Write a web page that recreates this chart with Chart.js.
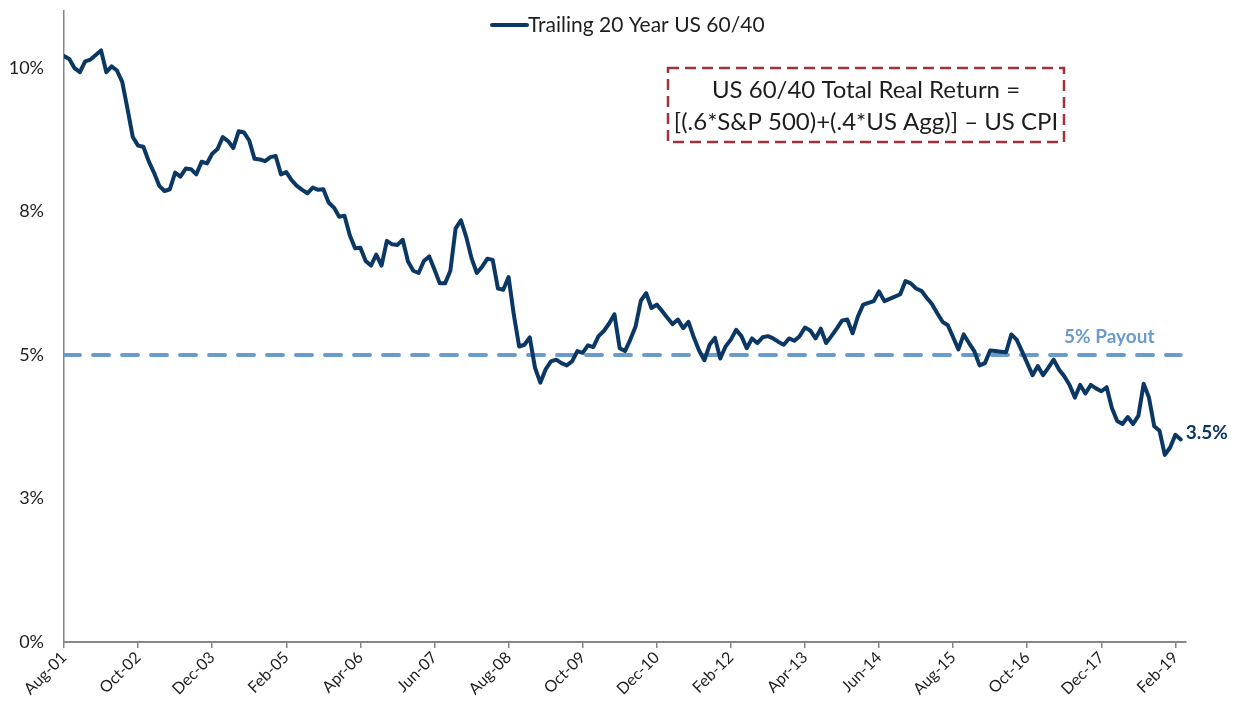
<!DOCTYPE html>
<html>
<head>
<meta charset="utf-8">
<script src="https://cdn.jsdelivr.net/npm/chart.js@4.4.1/dist/chart.umd.min.js"></script>
<style>
  html, body { margin: 0; padding: 0; background: #fff; }
  #wrap { width: 1238px; height: 701px; position: relative; }
</style>
</head>
<body>
<div id="wrap"><canvas id="grafico"></canvas></div>
<script>
// meses desde Aug-01 (indice 0) ate Mar-19 (indice 211)
var rotulosEixo = ['Aug-01', 'Oct-02', 'Dec-03', 'Feb-05', 'Apr-06', 'Jun-07', 'Aug-08', 'Oct-09',
  'Dec-10', 'Feb-12', 'Apr-13', 'Jun-14', 'Aug-15', 'Oct-16', 'Dec-17', 'Feb-19'];
var passoRotulo = 14; // meses entre rotulos
var totalMeses = 212;

var retorno6040 = [
  10.21, 10.16, 10.00, 9.93, 10.12, 10.15, 10.23, 10.31, 9.93, 10.03, 9.96, 9.76, 9.29, 8.80, 8.65, 8.63,
  8.38, 8.18, 7.95, 7.86, 7.89, 8.18, 8.11, 8.25, 8.24, 8.15, 8.37, 8.34, 8.51, 8.59, 8.80, 8.73,
  8.61, 8.90, 8.88, 8.74, 8.42, 8.41, 8.38, 8.45, 8.47, 8.15, 8.19, 8.05, 7.95, 7.88, 7.82, 7.92,
  7.88, 7.89, 7.66, 7.57, 7.41, 7.43, 7.09, 6.86, 6.87, 6.64, 6.56, 6.75, 6.56, 6.99, 6.93, 6.92,
  7.01, 6.63, 6.47, 6.43, 6.64, 6.72, 6.49, 6.25, 6.25, 6.47, 7.21, 7.35, 7.06, 6.69, 6.43, 6.54,
  6.68, 6.66, 6.16, 6.14, 6.36, 5.70, 5.15, 5.18, 5.31, 4.78, 4.52, 4.75, 4.89, 4.92, 4.86, 4.82,
  4.89, 5.07, 5.04, 5.17, 5.14, 5.33, 5.42, 5.55, 5.71, 5.12, 5.07, 5.27, 5.50, 5.95, 6.08, 5.82,
  5.88, 5.77, 5.65, 5.54, 5.62, 5.47, 5.58, 5.31, 5.08, 4.91, 5.18, 5.30, 4.94, 5.15, 5.27, 5.44,
  5.33, 5.12, 5.29, 5.21, 5.31, 5.33, 5.29, 5.23, 5.18, 5.29, 5.25, 5.33, 5.48, 5.43, 5.29, 5.46,
  5.21, 5.33, 5.46, 5.60, 5.62, 5.38, 5.67, 5.88, 5.91, 5.94, 6.11, 5.94, 5.98, 6.02, 6.06, 6.29,
  6.25, 6.16, 6.12, 6.00, 5.89, 5.73, 5.58, 5.52, 5.31, 5.10, 5.36, 5.21, 5.07, 4.82, 4.86, 5.08,
  5.07, 5.06, 5.05, 5.36, 5.27, 5.07, 4.86, 4.65, 4.81, 4.65, 4.78, 4.92, 4.75, 4.63, 4.48, 4.26,
  4.48, 4.33, 4.48, 4.42, 4.37, 4.44, 4.08, 3.85, 3.80, 3.92, 3.80, 3.94, 4.50, 4.26, 3.76, 3.68,
  3.26, 3.39, 3.61, 3.53
];
var payout = 5;

var corLinha = '#0b3764';
var corPayout = '#6b9bca';
var corEixo = '#868686';
var corTexto = '#1e1e1e';

Chart.defaults.font.family = 'Lato, "Open Sans", sans-serif';
Chart.defaults.color = corTexto;

var pontos = retorno6040.map(function(v, i){ return { x: i, y: v }; });
var ultimo = retorno6040.length - 1;

// legenda, caixa da formula e rotulos "5% Payout" / ultimo valor
var anotacoes = {
  id: 'anotacoes',
  afterDraw: function(chart) {
    var ctx = chart.ctx;
    var sx = chart.scales.x, sy = chart.scales.y;
    var ds = chart.data.datasets[0];
    ctx.save();

    // legenda
    ctx.strokeStyle = ds.borderColor;
    ctx.lineWidth = 4;
    ctx.lineCap = 'round';
    ctx.beginPath();
    ctx.moveTo(492, 25);
    ctx.lineTo(527, 25);
    ctx.stroke();
    ctx.fillStyle = corTexto;
    ctx.font = '21px Lato';
    ctx.textAlign = 'left';
    ctx.textBaseline = 'middle';
    ctx.fillText(ds.label, 528, 25);

    // caixa tracejada
    ctx.lineCap = 'butt';
    ctx.strokeStyle = '#a3303a';
    ctx.lineWidth = 2.5;
    ctx.setLineDash([11, 6]);
    ctx.strokeRect(668, 68, 396, 74);
    ctx.setLineDash([]);
    ctx.font = '24px Lato';
    ctx.textAlign = 'center';
    ctx.fillText('US 60/40 Total Real Return =', 866, 90);
    ctx.fillText('[(.6*S&P 500)+(.4*US Agg)] \u2013 US CPI', 866, 122);

    // 5% Payout
    ctx.font = 'bold 19px Lato';
    ctx.fillStyle = corPayout;
    ctx.fillText('5% Payout', sx.getPixelForValue(197.5), sy.getPixelForValue(payout) - 18);

    // ultimo valor
    ctx.fillStyle = corLinha;
    ctx.textAlign = 'left';
    ctx.fillText(retorno6040[ultimo].toFixed(1) + '%', sx.getPixelForValue(ultimo) + 5, sy.getPixelForValue(retorno6040[ultimo]) - 7);
    ctx.restore();
  }
};

new Chart(document.getElementById('grafico'), {
  type: 'line',
  data: {
    datasets: [
      {
        label: 'Trailing 20 Year US 60/40',
        data: pontos,
        borderColor: corLinha,
        backgroundColor: corLinha,
        borderWidth: 4,
        borderCapStyle: 'round',
        borderJoinStyle: 'round',
        pointRadius: 0,
        tension: 0,
        order: 1
      },
      {
        label: '5% Payout',
        data: [{ x: 0, y: payout }, { x: ultimo, y: payout }],
        borderColor: corPayout,
        borderWidth: 4,
        borderDash: [16, 13],
        borderCapStyle: 'round',
        pointRadius: 0,
        order: 2
      }
    ]
  },
  options: {
    responsive: true,
    maintainAspectRatio: false,
    animation: false,
    layout: { padding: { top: 0, right: 52, bottom: 0, left: 0 } },
    plugins: {
      legend: { display: false },
      tooltip: { enabled: false }
    },
    scales: {
      x: {
        type: 'linear',
        min: 0,
        max: totalMeses,
        afterFit: function(s){ s.height = 59; },
        grid: { display: true, drawOnChartArea: false, drawTicks: true, tickLength: 6, color: corEixo, lineWidth: 1.5 },
        border: { display: true, color: corEixo, width: 2 },
        ticks: {
          stepSize: passoRotulo,
          autoSkip: false,
          includeBounds: false,
          maxRotation: 45,
          minRotation: 45,
          padding: 0,
          color: corTexto,
          font: { size: 16 },
          callback: function(v){ return rotulosEixo[v / passoRotulo] || ''; }
        }
      },
      y: {
        min: 0,
        max: 11,
        afterFit: function(s){ s.width = 64; },
        // marcas invisiveis so para afastar os rotulos do eixo
        grid: { display: true, drawOnChartArea: false, drawTicks: true, tickLength: 20, color: 'rgba(0,0,0,0)' },
        border: { display: true, color: corEixo, width: 1.5 },
        ticks: {
          stepSize: 2.5,
          includeBounds: false,
          padding: 0,
          color: corTexto,
          font: { size: 18 },
          callback: function(v){ return Math.round(v) + '%'; }
        }
      }
    }
  },
  plugins: [anotacoes]
});
</script>
</body>
</html>
